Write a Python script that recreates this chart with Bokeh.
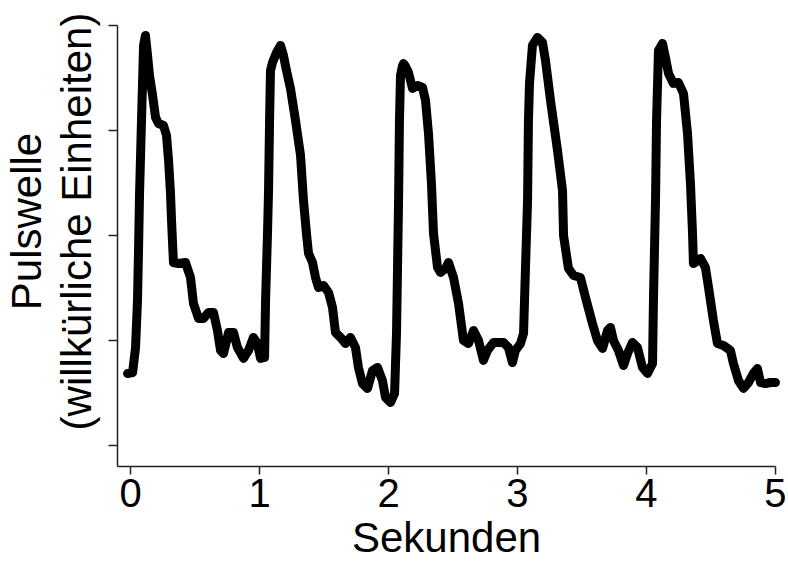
import math
from bokeh.plotting import figure
from bokeh.models import Range1d, FixedTicker, Label
from bokeh.embed import file_html
from bokeh.resources import INLINE

# ---- data ----
seconds = [
    -0.023, 0.016, 0.039, 0.054, 0.062, 0.070, 0.085, 0.093, 0.101, 0.116,
    0.132, 0.147, 0.171, 0.194, 0.217, 0.256, 0.279, 0.295, 0.310, 0.318,
    0.326, 0.333, 0.372, 0.426, 0.465, 0.488, 0.527, 0.566, 0.605, 0.643,
    0.674, 0.698, 0.721, 0.760, 0.798, 0.829, 0.876, 0.915, 0.953, 0.984,
    1.008, 1.039,
    1.047, 1.062, 1.070, 1.078, 1.085, 1.101, 1.132, 1.163, 1.186, 1.209,
    1.240, 1.279, 1.318, 1.341, 1.364, 1.380, 1.411, 1.434, 1.457, 1.496,
    1.535, 1.566, 1.589, 1.628, 1.667, 1.705, 1.744, 1.767, 1.798, 1.837,
    1.876, 1.915, 1.953, 1.977, 2.016, 2.047,
    2.062, 2.070, 2.078, 2.085, 2.093, 2.109, 2.116, 2.132, 2.155, 2.186,
    2.225, 2.264, 2.287, 2.310, 2.333, 2.349, 2.380, 2.403, 2.442, 2.465,
    2.504, 2.543, 2.581, 2.620, 2.659, 2.698, 2.736, 2.767, 2.814, 2.891,
    2.930, 2.961, 2.984, 3.023, 3.047,
    3.062, 3.078, 3.085, 3.093, 3.116, 3.155, 3.194, 3.217, 3.256, 3.310,
    3.349, 3.357, 3.395, 3.434, 3.488, 3.527, 3.581, 3.620, 3.659, 3.698,
    3.721, 3.744, 3.783, 3.822, 3.853, 3.891, 3.930, 3.969, 4.008, 4.047,
    4.054, 4.070, 4.078, 4.093, 4.124, 4.147, 4.171, 4.209, 4.248, 4.287,
    4.318, 4.341, 4.357, 4.364, 4.419, 4.457, 4.481, 4.519, 4.550, 4.597,
    4.651, 4.674, 4.713, 4.752, 4.791, 4.829, 4.860, 4.884, 4.922, 4.961,
    5.000,
]
pulse = [
    0.686, 0.695, 0.933, 1.381, 1.857, 2.400, 3.095, 3.448, 3.810, 3.905,
    3.714, 3.524, 3.333, 3.124, 3.067, 3.048, 2.952, 2.714, 2.400, 2.143,
    1.924, 1.743, 1.733, 1.743, 1.600, 1.352, 1.210, 1.210, 1.267, 1.267,
    1.095, 0.905, 0.876, 1.076, 1.076, 0.933, 0.829, 0.905, 1.029, 0.971,
    0.829, 0.838,
    1.381, 2.019, 2.429, 3.095, 3.571, 3.648, 3.743, 3.810, 3.714, 3.571,
    3.400, 3.095, 2.762, 2.333, 2.019, 1.829, 1.743, 1.600, 1.505, 1.524,
    1.457, 1.314, 1.076, 1.029, 0.971, 1.029, 0.933, 0.743, 0.590, 0.543,
    0.714, 0.743, 0.619, 0.457, 0.410, 0.495,
    1.067, 1.695, 2.333, 3.095, 3.524, 3.619, 3.638, 3.610, 3.552, 3.400,
    3.429, 3.410, 3.286, 2.971, 2.495, 2.019, 1.695, 1.648, 1.686, 1.743,
    1.600, 1.352, 1.000, 0.971, 1.095, 1.000, 0.810, 0.905, 0.981, 0.981,
    0.933, 0.790, 0.905, 0.971, 1.067,
    1.695, 2.333, 3.095, 3.448, 3.810, 3.886, 3.838, 3.667, 3.286, 2.810,
    2.429, 2.000, 1.686, 1.619, 1.600, 1.410, 1.162, 1.000, 0.924, 1.095,
    1.124, 1.000, 0.905, 0.762, 0.876, 0.981, 0.933, 0.743, 0.686, 0.781,
    1.381, 2.333, 3.095, 3.762, 3.829, 3.695, 3.543, 3.448, 3.457, 3.352,
    2.971, 2.495, 2.019, 1.733, 1.781, 1.695, 1.505, 1.190, 0.971, 0.952,
    0.905, 0.781, 0.619, 0.543, 0.600, 0.686, 0.733, 0.600, 0.590, 0.600,
    0.600,
]
x_ticks = [0, 1, 2, 3, 4, 5]
y_ticks = [0, 1, 2, 3, 4]
x_label = "Sekunden"
y_label_1 = "Pulswelle"
y_label_2 = "(willkürliche Einheiten)"

# axis extents (data units)
X_MIN, X_MAX = -0.1, 5.0
Y_MIN, Y_MAX = -0.2, 4.0

FONT = "Liberation Sans"

# The frame fills the whole canvas; the axes are placed at fixed data
# locations so that the titles can be drawn as labels inside the frame.
p = figure(
    width=788, height=563,
    output_backend="svg", toolbar_location=None,
    x_range=Range1d(-1.008, 5.101), y_range=Range1d(-1.124, 4.238),
    min_border=0, min_border_left=0, min_border_right=0,
    min_border_top=0, min_border_bottom=0,
)
p.outline_line_color = None
p.grid.visible = False
p.background_fill_color = "white"
p.border_fill_color = "white"

p.line(seconds, pulse, line_color="black", line_width=9,
       line_join="round", line_cap="round")

# axes
for ax in (p.xaxis[0], p.yaxis[0]):
    ax.axis_line_color = "#222222"
    ax.axis_line_width = 1.5
    ax.major_tick_line_color = "#222222"
    ax.major_tick_line_width = 1.5
    ax.major_tick_in = 0
    ax.minor_tick_line_color = None

p.xaxis.ticker = FixedTicker(ticks=x_ticks)
p.xaxis.fixed_location = Y_MIN
p.xaxis.bounds = (X_MIN, X_MAX)
p.xaxis.major_tick_out = 8
p.xaxis.major_label_text_font = FONT
p.xaxis.major_label_text_font_size = "40px"
p.xaxis.major_label_text_color = "black"
p.xaxis.major_label_standoff = 5

p.yaxis.ticker = FixedTicker(ticks=y_ticks)
p.yaxis.fixed_location = X_MIN
p.yaxis.bounds = (Y_MIN, Y_MAX)
p.yaxis.major_tick_out = 9
p.yaxis.major_label_overrides = {t: "" for t in y_ticks}

# axis titles
p.add_layout(Label(x=2.45, y=-0.876, text=x_label, text_font=FONT,
                   text_font_size="42px", text_color="black",
                   text_align="center", text_baseline="alphabetic"))
p.add_layout(Label(x=-0.806, y=2.133, text=y_label_1, text_font=FONT,
                   text_font_size="42px", text_color="black",
                   text_align="center", text_baseline="alphabetic",
                   angle=math.pi / 2))
p.add_layout(Label(x=-0.419, y=2.133, text=y_label_2, text_font=FONT,
                   text_font_size="42px", text_color="black",
                   text_align="center", text_baseline="alphabetic",
                   angle=math.pi / 2))

open("out.html", "w").write(file_html(p, INLINE))
